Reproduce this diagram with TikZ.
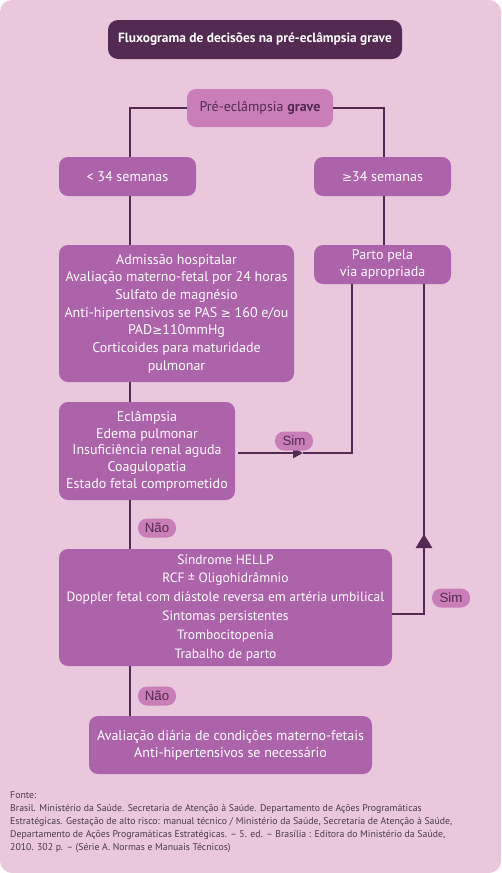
\documentclass[tikz,border=0pt]{standalone}
\usepackage{fontspec}
\setmainfont{PT Sans}
\newfontfamily\simbolo{DejaVu Sans}
\newfontfamily\rotulo{Liberation Sans}
\usetikzlibrary{arrows.meta, positioning, calc}
\definecolor{fundo}{HTML}{E9C8DE}
\definecolor{caixa}{HTML}{AD63A9}
\definecolor{clara}{HTML}{C97EB7}
\definecolor{escura}{HTML}{532A51}
\definecolor{cinza}{HTML}{4A3B48}
\newcommand{\maiorig}{{\simbolo\fontsize{12}{12}\selectfont ≥}}

\begin{document}
\begin{tikzpicture}[x=1pt, y=-1pt, >=latex,
    caixa/.style={fill=caixa, text=white, rounded corners=9pt, align=center, inner sep=0pt, font=\fontsize{14}{16.7}\selectfont},
    titulo/.style={fill=escura, text=white, rounded corners=10pt, inner sep=0pt, font=\fontsize{13.4}{14}\selectfont\bfseries},
    topo/.style={fill=clara, text=escura, rounded corners=9pt, inner sep=0pt, font=\fontsize{14}{16.7}\selectfont},
    pilula/.style={fill=clara, text=escura, rounded corners=9pt, minimum width=38, minimum height=19, inner sep=0pt, font=\rotulo\fontsize{13.3}{13}\selectfont},
    linha/.style={draw=escura, line width=2.7pt}]
    \fill[fundo, rounded corners=12pt] (0,0) rectangle (501,873);

    \coordinate (esq) at (130,0);
    \coordinate (dir) at (384,0);
    \coordinate (meio) at (352,0);
    \coordinate (volta) at (424,0);
    \coordinate (eclx) at (238,453);
    \coordinate (pontaA) at (303,453);
    \coordinate (simy) at (0,614);
    \coordinate (pontaB) at (424,533);

    \node[titulo, minimum width=294, minimum height=39] (tit) at (255,39.5) {Fluxograma de decisões na pré-eclâmpsia grave};
    \node[topo, minimum width=146, minimum height=38] (pre) at (260,108) {Pré-eclâmpsia \textbf{grave}};
    \node[caixa, minimum width=137, minimum height=39] (menor) at (127.5,176.5) {< 34 semanas};
    \node[caixa, minimum width=137, minimum height=39] (maior) at (382.5,176.5) {\maiorig34 semanas};
    \node[caixa, minimum width=235, minimum height=137, font=\fontsize{14}{17.7}\selectfont] (adm) at (176.5,313.5)
        {Admissão hospitalar\\Avaliação materno-fetal por 24 horas\\Sulfato de magnésio\\Anti-hipertensivos se PAS \maiorig{} 160 e/ou\\PAD\maiorig110mmHg\\Corticoides para maturidade\\pulmonar};
    \node[caixa, minimum width=137, minimum height=39] (parto) at (382.5,264.5) {Parto pela\\via apropriada};
    \node[caixa, minimum width=176, minimum height=98] (ecl) at (147,451)
        {Eclâmpsia\\Edema pulmonar\\Insuficiência renal aguda\\Coagulopatia\\Estado fetal comprometido};
    \node[caixa, minimum width=333, minimum height=117, font=\fontsize{13.5}{18.8}\selectfont] (hellp) at (225.5,607.5)
        {Síndrome HELLP\\RCF ± Oligohidrâmnio\\Doppler fetal com diástole reversa em artéria umbilical\\Sintomas persistentes\\Trombocitopenia\\Trabalho de parto};
    \node[caixa, minimum width=283, minimum height=58] (aval) at (230.5,745)
        {Avaliação diária de condições materno-fetais\\Anti-hipertensivos se necessário};

    \draw[linha] (pre.west) -| (menor.north -| esq);
    \draw[linha] (pre.east) -| (maior.north -| dir);
    \draw[linha] (menor.south -| esq) -- (adm.north -| esq);
    \draw[linha] (maior.south -| dir) -- (parto.north -| dir);
    \draw[linha] (adm.south -| esq) -- (ecl.north -| esq);
    \draw[linha, -{Triangle[length=10pt,width=10pt]}] (eclx) -- (pontaA);
    \draw[linha] (pontaA) -| (parto.south -| meio);
    \draw[linha] (ecl.south -| esq) -- (hellp.north -| esq);
    \draw[linha] (hellp.east |- simy) -| (volta |- simy) -- (pontaB);
    \draw[linha, -{Triangle[length=14pt,width=16pt]}] (volta |- simy) -- ([yshift=-1pt]pontaB);
    \draw[linha] (pontaB) -- (parto.south -| volta);
    \draw[linha] (hellp.south -| esq) -- (aval.north -| esq);

    \node[pilula] (sim1) at (294,441) {Sim};
    \node[pilula] (nao1) at (157,528) {Não};
    \node[pilula] (sim2) at (451,598) {Sim};
    \node[pilula] (nao2) at (157,696) {Não};

    \node[anchor=north west, align=left, text=cinza, inner sep=0pt, font=\fontsize{9.8}{13}\selectfont] (fonte) at (10,791)
        {Fonte:\\Brasil. Ministério da Saúde. Secretaria de Atenção à Saúde. Departamento de Ações Programáticas\\Estratégicas. Gestação de alto risco: manual técnico / Ministério da Saúde, Secretaria de Atenção à Saúde,\\Departamento de Ações Programáticas Estratégicas. – 5. ed. – Brasília : Editora do Ministério da Saúde,\\2010. 302 p. – (Série A. Normas e Manuais Técnicos)};
\end{tikzpicture}
\end{document}
